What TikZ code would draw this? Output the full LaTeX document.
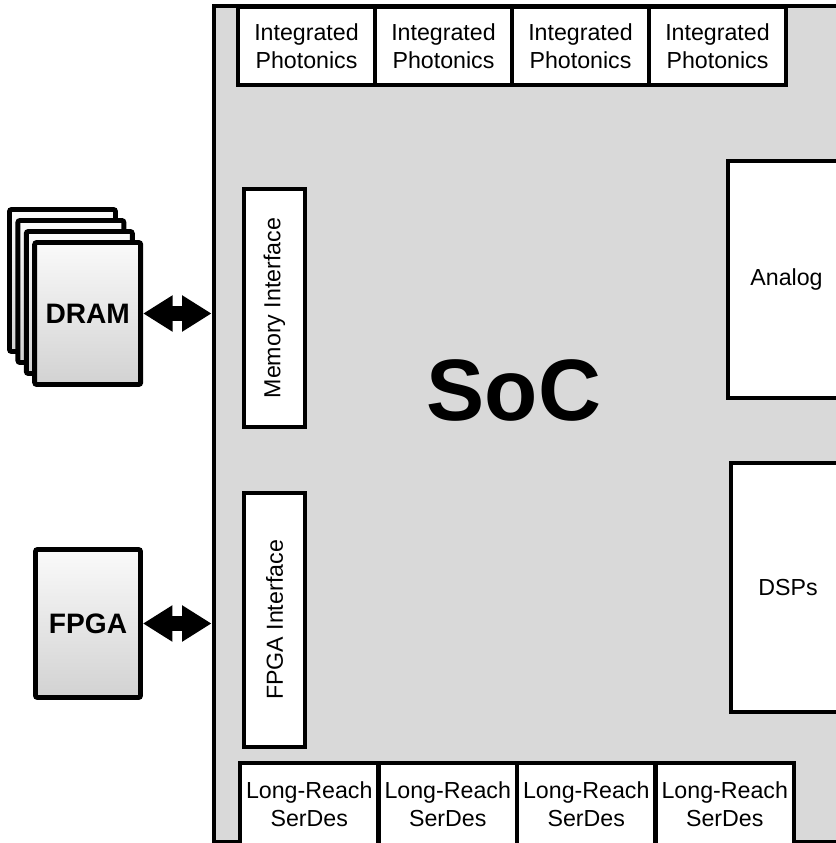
\documentclass[tikz,border=0pt]{standalone}
\usepackage{fontspec}
\setmainfont{Liberation Sans}
\usetikzlibrary{arrows.meta,positioning,calc}
\definecolor{SocGrey}{HTML}{D9D9D9}
\definecolor{ChipTop}{HTML}{FAFAFA}
\definecolor{ChipBot}{HTML}{D2D2D2}
\newcommand{\pxu}{0.025cm}

\begin{document}
\begin{tikzpicture}[x=\pxu,y=-\pxu,
  blockbox/.style={draw,line width=3pt,fill=white,inner sep=0pt,align=center,
    font=\fontsize{16.5}{20}\selectfont},
  chipbox/.style={draw,line width=3.5pt,rounded corners=1.5pt,top color=ChipTop,
    bottom color=ChipBot,inner sep=0pt,font=\fontsize{20}{24}\selectfont\bfseries},
  linkarrow/.style={line width=10.7pt,
    {Triangle[length=21pt,width=24.5pt]}-{Triangle[length=21pt,width=24.5pt]}}]
  \useasboundingbox (0,0) rectangle (836,843);
  \clip (0,0) rectangle (836,843);
  % SoC die
  \node[draw,line width=3.5pt,fill=SocGrey,inner sep=0pt,
    minimum width=640*\pxu,minimum height=836*\pxu] (soc) at (534,424) {};
  \node[font=\fontsize{62}{70}\selectfont\bfseries] (soclbl) at (514,390) {SoC};
  % Photonics along top edge
  \foreach \i in {0,...,3}
    \node[blockbox,minimum width=137*\pxu,minimum height=78*\pxu]
      (phot\i) at (306.5+137*\i,46) {Integrated\\Photonics};
  % SerDes along bottom edge
  \foreach \i in {0,...,3}
    \node[blockbox,minimum width=138.5*\pxu,minimum height=82*\pxu]
      (serdes\i) at (309.25+138.5*\i,804) {Long-Reach\\SerDes};
  % Interfaces
  \node[blockbox,rotate=90,minimum width=238*\pxu,minimum height=61*\pxu]
    (memif) at (274.5,308) {Memory Interface};
  \node[blockbox,rotate=90,minimum width=254*\pxu,minimum height=61*\pxu]
    (fpgaif) at (274.5,620) {FPGA Interface};
  \node[blockbox,minimum width=117*\pxu,minimum height=237*\pxu]
    (analog) at (786.5,279.5) {Analog};
  \node[blockbox,minimum width=114*\pxu,minimum height=249*\pxu]
    (dsps) at (788,587.5) {DSPs};
  % DRAM stack
  \foreach \i in {0,1,2}
    \node[chipbox,minimum width=106*\pxu,minimum height=142*\pxu]
      (dram\i) at (62.5+8.4*\i,280.5+11*\i) {};
  \node[chipbox,minimum width=106*\pxu,minimum height=142*\pxu]
    (dram) at (87.7,313.5) {DRAM};
  \node[chipbox,minimum width=105*\pxu,minimum height=148*\pxu]
    (fpga) at (88,623.5) {FPGA};
  % Links
  \draw[linkarrow] (dram.east) -- (dram.east -| soc.west);
  \draw[linkarrow] (fpga.east) -- (fpga.east -| soc.west);
\end{tikzpicture}
\end{document}
